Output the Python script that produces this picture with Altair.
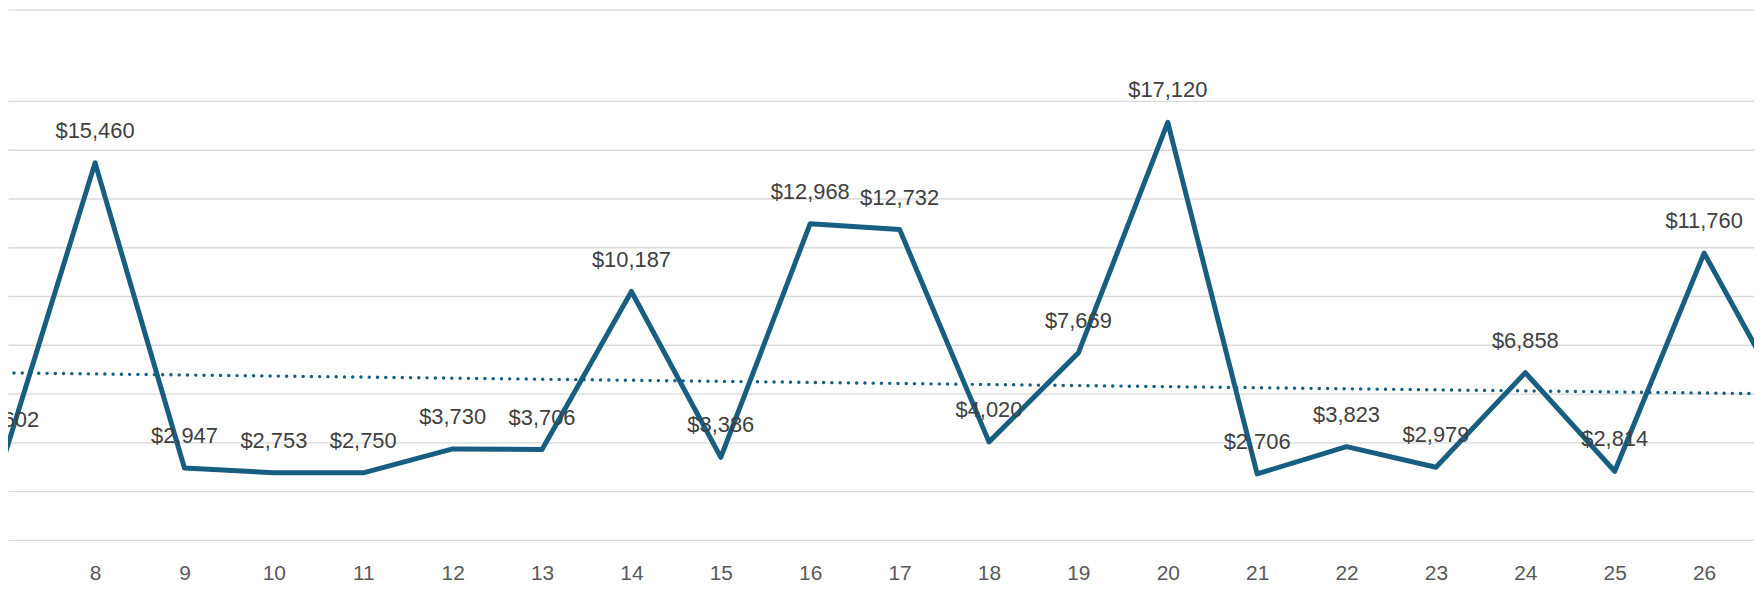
import altair as alt
import pandas as pd

# ---- data ----
days = [7, 8, 9, 10, 11, 12, 13, 14, 15, 16, 17, 18, 19, 20, 21, 22, 23, 24, 25, 26, 27]
sales = [3602, 15460, 2947, 2753, 2750, 3730, 3706, 10187, 3386, 12968, 12732,
         4020, 7669, 17120, 2706, 3823, 2979, 6858, 2814, 11760, 5100]
trend_days = [7, 27]
trend_values = [6850, 5980]
tick_days = [7, 8, 9, 10, 11, 12, 13, 14, 15, 16, 17, 18, 19, 20, 21, 22, 23, 24, 25, 26]
grid_values = [0, 2000, 4000, 6000, 8000, 10000, 12000, 14000, 16000, 18000, 21755]
last_labelled_day = 26

LINE = "#175E80"

df = pd.DataFrame({"day": days, "sales": sales})
tdf = pd.DataFrame({"day": trend_days, "sales": trend_values})

xscale = alt.Scale(domain=[7.026, 26.558], nice=False, zero=False)
yscale = alt.Scale(domain=[0, 21755], nice=False, zero=True)

x_axis = alt.Axis(values=tick_days, title=None, grid=False, domain=False, ticks=False,
                  format="d",
                  labelFont="Liberation Sans", labelFontSize=21, labelColor="#595959",
                  labelPadding=23, labelFlush=False, labelOverlap=False)
y_axis = alt.Axis(values=grid_values, title=None, labels=False, ticks=False, domain=False,
                  grid=True, gridColor="#D9D9D9", gridWidth=1.4)

base = alt.Chart(df)

line = base.mark_line(color=LINE, strokeWidth=5, strokeJoin="round", clip=True).encode(
    x=alt.X("day:Q", scale=xscale, axis=x_axis),
    y=alt.Y("sales:Q", scale=yscale, axis=y_axis),
)

trend = alt.Chart(tdf).mark_line(color=LINE, strokeWidth=3.4, strokeCap="round",
                                 strokeDash=[0.1, 8.2], clip=True).encode(
    x=alt.X("day:Q", scale=xscale),
    y=alt.Y("sales:Q", scale=yscale),
)

labels = base.transform_filter(
    alt.datum.day <= last_labelled_day
).mark_text(font="Liberation Sans", fontSize=22, color="#404040",
            baseline="middle", align="center", dy=-32).encode(
    x=alt.X("day:Q", scale=xscale),
    y=alt.Y("sales:Q", scale=yscale),
    text=alt.Text("sales:Q", format="$,.0f"),
)

chart = alt.layer(line, trend, labels).properties(
    width=1754, height=533,
    background="white",
    autosize=alt.AutoSizeParams(type="none"),
    padding={"left": 0, "top": 0, "right": 0, "bottom": 55},
).configure_view(stroke=None).configure_axis(
    domain=False, ticks=False
)

chart.save("out.html", embed_options={"renderer": "svg", "actions": False})
